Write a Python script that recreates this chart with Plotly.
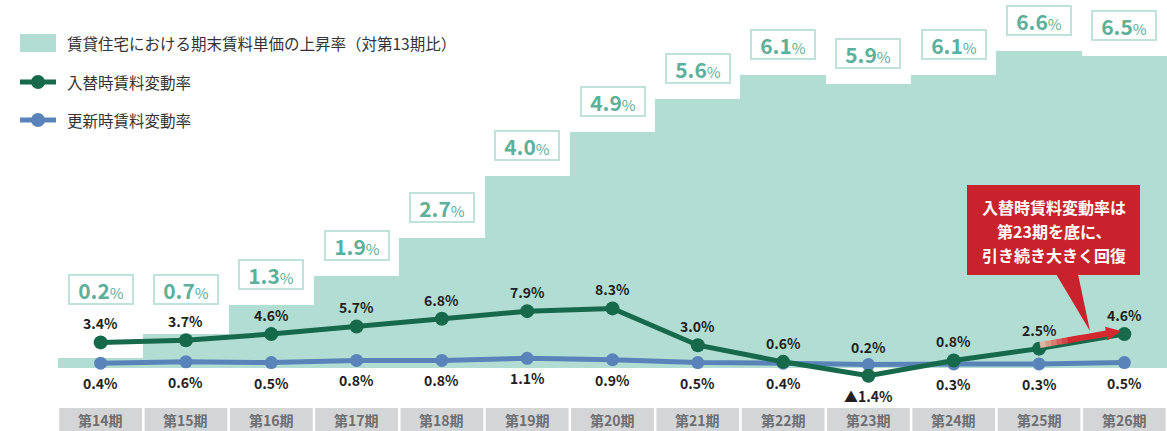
import plotly.graph_objects as go

# ---------------- data ----------------
periods = ["第14期", "第15期", "第16期", "第17期", "第18期", "第19期", "第20期",
           "第21期", "第22期", "第23期", "第24期", "第25期", "第26期"]
rent_rise = [0.2, 0.7, 1.3, 1.9, 2.7, 4.0, 4.9, 5.6, 6.1, 5.9, 6.1, 6.6, 6.5]
tenant_change = [3.4, 3.7, 4.6, 5.7, 6.8, 7.9, 8.3, 3.0, 0.6, -1.4, 0.8, 2.5, 4.6]
renewal_change = [0.4, 0.6, 0.5, 0.8, 0.8, 1.1, 0.9, 0.5, 0.4, 0.2, 0.3, 0.3, 0.5]

legend_names = ["賃貸住宅における期末賃料単価の上昇率（対第13期比）", "入替時賃料変動率", "更新時賃料変動率"]
callout_lines = ["入替時賃料変動率は", "第23期を底に、", "引き続き大きく回復"]

# ---------------- style ----------------
W, H = 1167, 431
L = 58
FONT = "Noto Sans CJK JP, Noto Sans, sans-serif"
C_BAR = "#b2ddd3"
C_BAR_TXT = "#5cb09c"
C_BAR_BORDER = "#bfe3da"
C_GREEN = "#17694b"
C_BLUE = "#5a84b9"
C_RED = "#c8232c"
C_CAT = "#d4d5d7"


def px_x(p):
    return (p - L) / (W - L)


def px_y(p):
    return 1 - p / H


xs = list(range(len(periods)))

fig = go.Figure()
fig.add_trace(go.Bar(x=xs, y=rent_rise, width=1.0, marker=dict(color=C_BAR, line=dict(width=0)),
                     yaxis="y", showlegend=False, hoverinfo="skip"))
fig.add_trace(go.Scatter(x=xs, y=renewal_change, mode="lines+markers", yaxis="y2",
                         line=dict(color=C_BLUE, width=5), marker=dict(size=13, color=C_BLUE),
                         showlegend=False))
fig.add_trace(go.Scatter(x=xs, y=tenant_change, mode="lines+markers", yaxis="y2",
                         line=dict(color=C_GREEN, width=5), marker=dict(size=14, color=C_GREEN),
                         showlegend=False))

ann = []
shapes = []

# bar value boxes
for i, v in enumerate(rent_rise):
    ann.append(dict(
        x=i, y=max(v, 1.0), xref="x", yref="y", xanchor="center", yanchor="bottom", yshift=15,
        text=f"<b>{v:.1f}</b><span style='font-size:15px'>%</span>",
        showarrow=False, font=dict(family=FONT, size=21, color=C_BAR_TXT),
        bgcolor="white", bordercolor=C_BAR_BORDER, borderwidth=2, borderpad=0,
        width=62, height=27))


def fmt(v):
    return ("▲" if v < 0 else "") + f"{abs(v):.1f}%"


# line value labels
for i, (g, b) in enumerate(zip(tenant_change, renewal_change)):
    g_up = g >= b
    ann.append(dict(x=i, y=g, xref="x", yref="y2", xanchor="center", yanchor="middle",
                    yshift=19 if g_up else -20,
                    text=f"<b>{fmt(g)}</b>", showarrow=False,
                    font=dict(family=FONT, size=14, color="#231f20")))
    ann.append(dict(x=i, y=b, xref="x", yref="y2", xanchor="center", yanchor="middle",
                    yshift=-20 if g_up else 18,
                    text=f"<b>{fmt(b)}</b>", showarrow=False,
                    font=dict(family=FONT, size=14, color="#231f20")))

# category boxes
for i, p in enumerate(periods):
    shapes.append(dict(type="rect", xref="x", yref="paper", x0=i - 0.485, x1=i + 0.485,
                       y0=px_y(H + 5), y1=px_y(408), fillcolor=C_CAT, line=dict(width=0),
                       layer="above"))
    ann.append(dict(x=i, y=px_y(419.5), xref="x", yref="paper", xanchor="center", yanchor="middle",
                    text=f"<b>{p}</b>",
                    showarrow=False, font=dict(family=FONT, size=14, color="#6d6e71")))

# small grey baseline fragment
shapes.append(dict(type="line", xref="paper", yref="paper", x0=px_x(315), x1=px_x(400),
                   y0=px_y(366.5), y1=px_y(366.5), line=dict(color="#777777", width=1.5),
                   layer="below"))

# legend
shapes.append(dict(type="rect", xref="paper", yref="paper", x0=px_x(20), x1=px_x(56),
                   y0=px_y(52), y1=px_y(34), fillcolor=C_BAR, line=dict(width=0)))
for yy, col in [(82, C_GREEN), (120, C_BLUE)]:
    shapes.append(dict(type="line", xref="paper", yref="paper", x0=px_x(20), x1=px_x(56),
                       y0=px_y(yy), y1=px_y(yy), line=dict(color=col, width=5)))
    shapes.append(dict(type="circle", xref="paper", yref="paper", x0=px_x(31), x1=px_x(45),
                       y0=px_y(yy + 7), y1=px_y(yy - 7), fillcolor=col, line=dict(width=0)))
for name, yy in zip(legend_names, [43, 82, 120]):
    ann.append(dict(x=px_x(65), y=px_y(yy), xref="paper", yref="paper", xanchor="left",
                    yanchor="middle",
                    text=name, showarrow=False, font=dict(family=FONT, size=15.5, color="#333333")))

# callout
shapes.append(dict(type="rect", xref="paper", yref="paper", x0=px_x(967), x1=px_x(1140),
                   y0=px_y(275), y1=px_y(185), fillcolor=C_RED, line=dict(width=0), layer="above"))
shapes.append(dict(type="path", xref="paper", yref="paper",
                   path=f"M {px_x(1056)} {px_y(274)} L {px_x(1078)} {px_y(274)} L {px_x(1090)} {px_y(331)} Z",
                   fillcolor=C_RED, line=dict(width=0), layer="above"))
for line_txt, yy in zip(callout_lines, [207, 231, 255]):
    ann.append(dict(x=px_x(1053.5), y=px_y(yy), xref="paper", yref="paper",
                    xanchor="center", yanchor="middle", text=f"<b>{line_txt}</b>",
                    showarrow=False, font=dict(family=FONT, size=16, color="white")))

# gradient arrow
sx, sy, tx, ty = 1040, 345, 1121, 331
dx, dy = tx - sx, ty - sy
ln = (dx * dx + dy * dy) ** 0.5
ux, uy = dx / ln, dy / ln
nx, ny = -uy, ux
bx, by = tx - 15 * ux, ty - 15 * uy
N = 12
c0 = (222, 196, 170)
c1 = (212, 40, 47)
for k in range(N):
    t0, t1 = k / N, (k + 1) / N
    f = min(1.0, (t0 + t1) / 2 * 2.2)
    col = "rgb(%d,%d,%d)" % tuple(int(c0[j] + (c1[j] - c0[j]) * f) for j in range(3))
    shapes.append(dict(type="line", xref="paper", yref="paper",
                       x0=px_x(sx + (bx - sx) * t0), x1=px_x(sx + (bx - sx) * t1 + 0.5),
                       y0=px_y(sy + (by - sy) * t0), y1=px_y(sy + (by - sy) * t1),
                       line=dict(color=col, width=6), layer="above"))
shapes.append(dict(type="path", xref="paper", yref="paper",
                   path=f"M {px_x(tx)} {px_y(ty)} L {px_x(bx + 7 * nx)} {px_y(by + 7 * ny)} "
                        f"L {px_x(bx - 7 * nx)} {px_y(by - 7 * ny)} Z",
                   fillcolor="#d4282f", line=dict(width=0), layer="above"))

bar_ppu, bar_zero = 48.0, 367.5
ln_ppu, ln_zero = 6.94, 366.0

fig.update_layout(
    width=W, height=H, margin=dict(l=L, r=0, t=0, b=0),
    paper_bgcolor="white", plot_bgcolor="white",
    bargap=0, showlegend=False,
    xaxis=dict(range=[-0.5, len(periods) - 0.5], visible=False, fixedrange=True),
    yaxis=dict(range=[-(H - bar_zero) / bar_ppu, bar_zero / bar_ppu], visible=False),
    yaxis2=dict(range=[-(H - ln_zero) / ln_ppu, ln_zero / ln_ppu], visible=False,
                overlaying="y"),
    annotations=ann, shapes=shapes,
)

fig.write_html("out.html")
